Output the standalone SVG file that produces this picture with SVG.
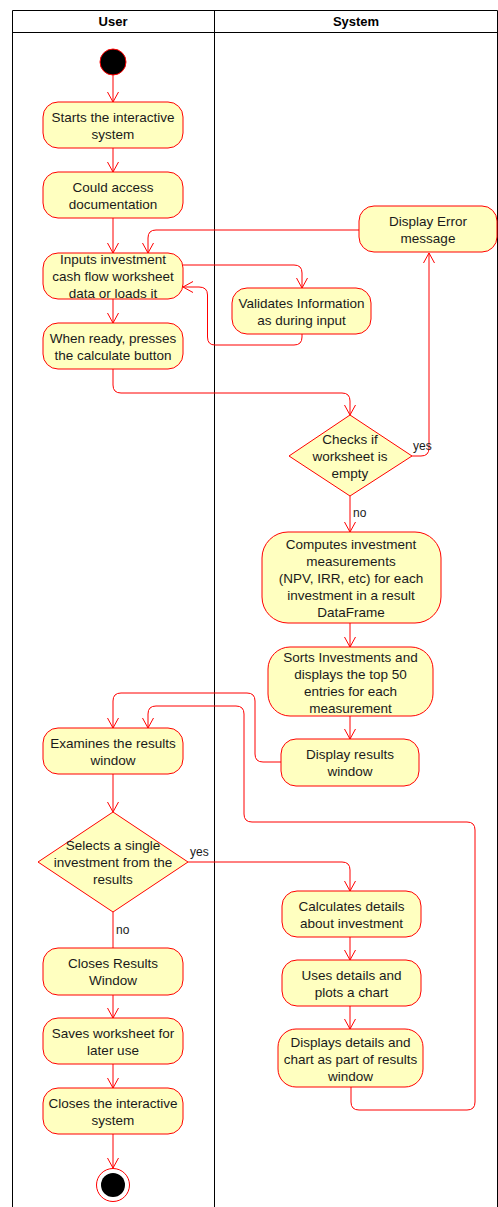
<svg xmlns="http://www.w3.org/2000/svg" width="498" height="1207" viewBox="0 0 498 1207">
<style>
.n{fill:#ffffc0;stroke:#ff0000;stroke-width:1}
.t{font-family:"Liberation Sans",Arial,sans-serif;font-size:13.5px;fill:#1a1a1a;text-anchor:middle}
.h{font-family:"Liberation Sans",Arial,sans-serif;font-size:13px;font-weight:bold;fill:#000;text-anchor:middle}
.l{font-family:"Liberation Sans",Arial,sans-serif;font-size:12px;fill:#1a1a1a}
.c{fill:none;stroke:#ff0000;stroke-width:1}
.a{marker-end:url(#arr)}
.f{fill:none;stroke:#000;stroke-width:1}
</style>
<defs>
<marker id="arr" markerUnits="userSpaceOnUse" markerWidth="14" markerHeight="14" viewBox="-1 -1 14 14" refX="10" refY="5.5" orient="auto">
<path d="M0,0 L10,5.5 L0,11" fill="none" stroke="#ff0000" stroke-width="1"/>
</marker>
</defs>
<rect width="498" height="1207" fill="#ffffff"/>
<g id="frame">
<path class="f" d="M12.5,1207 V10.5 H497.5 V1207 M12.5,32.5 H497.5 M214.5,10.5 V1207"/>
<text class="h" x="113" y="26">User</text>
<text class="h" x="356" y="26">System</text>
</g>
<g id="connectors">
<path class="c a" d="M113,75 V102"/>
<path class="c a" d="M113,148 V172"/>
<path class="c a" d="M113,218 V253"/>
<path class="c a" d="M113,299 V323"/>
<path class="c a" d="M183,265 H294 Q302,265 302,273 V288"/>
<path class="c a" d="M302,334 V337 Q302,345 294,345 H215 Q207.5,345 207.5,337 V295 Q207.5,287 199,287 H183"/>
<path class="c a" d="M359,230 H156 Q148,230 148,238 V253"/>
<path class="c a" d="M113,369 V385 Q113,393 121,393 H342 Q350,393 350,401 V415"/>
<path class="c a" d="M412,456 H421 Q429,456 429,448 V253"/>
<text class="l" x="413" y="450">yes</text>
<path class="c a" d="M350,496 V532"/>
<text class="l" x="353" y="517">no</text>
<path class="c a" d="M350,623 V647"/>
<path class="c a" d="M350,716 V739"/>
<path class="c a" d="M281,762 H263 Q255,762 255,754 V701 Q255,693 247,693 H121 Q113,693 113,701 V728"/>
<path class="c a" d="M113,774 V812"/>
<path class="c a" d="M188,862 H342 Q350,862 350,870 V891"/>
<text class="l" x="190" y="856">yes</text>
<path class="c a" d="M350,937 V960"/>
<path class="c a" d="M350,1006 V1029"/>
<path class="c a" d="M351,1087 V1102 Q351,1110 359,1110 H467 Q475,1110 475,1102 V830 Q475,822 467,822 H252 Q244,822 244,814 V714 Q244,706 236,706 H156 Q148,706 148,714 V728"/>
<path class="c" d="M113,912 V948"/>
<text class="l" x="116" y="934">no</text>
<path class="c a" d="M113,995 V1018"/>
<path class="c a" d="M113,1064 V1088"/>
<path class="c a" d="M113,1134 V1168"/>
</g>
<g id="start"><circle cx="113" cy="62" r="13" fill="#000" stroke="#ff0000"/></g>
<g id="n1"><rect class="n" x="43" y="102" width="140" height="46" rx="15"/>
<text class="t" x="113" y="121.5">Starts the interactive</text><text class="t" x="113" y="138.5">system</text></g>
<g id="n2"><rect class="n" x="43" y="172" width="140" height="46" rx="15"/>
<text class="t" x="113" y="191.5">Could access</text><text class="t" x="113" y="208.5">documentation</text></g>
<g id="n3"><rect class="n" x="43" y="253" width="140" height="46" rx="15"/>
<text class="t" x="113" y="263.5">Inputs investment</text><text class="t" x="113" y="280.5">cash flow worksheet</text><text class="t" x="113" y="297.5">data or loads it</text></g>
<g id="n4"><rect class="n" x="43" y="323" width="140" height="46" rx="15"/>
<text class="t" x="113" y="342.5">When ready, presses</text><text class="t" x="113" y="359.5">the calculate button</text></g>
<g id="err"><rect class="n" x="359" y="206" width="138" height="46" rx="15"/>
<text class="t" x="428" y="225.5">Display Error</text><text class="t" x="428" y="242.5">message</text></g>
<g id="val"><rect class="n" x="232" y="288" width="139" height="46" rx="15"/>
<text class="t" x="301.5" y="307.5">Validates Information</text><text class="t" x="301.5" y="324.5">as during input</text></g>
<g id="d1"><path class="n" d="M350,415 L412,456 L350,496 L289,456 Z"/>
<text class="t" x="350" y="443.5">Checks if</text><text class="t" x="350" y="460.5">worksheet is</text><text class="t" x="350" y="477.5">empty</text></g>
<g id="comp"><rect class="n" x="262" y="532" width="179" height="91" rx="26"/>
<text class="t" x="351" y="548.5">Computes investment</text><text class="t" x="351" y="565.5">measurements</text><text class="t" x="351" y="582.5">(NPV, IRR, etc) for each</text><text class="t" x="351" y="599.5">investment in a result</text><text class="t" x="351" y="616.5">DataFrame</text></g>
<g id="sort"><rect class="n" x="268" y="647" width="165" height="69" rx="22"/>
<text class="t" x="350.5" y="661.5">Sorts Investments and</text><text class="t" x="350.5" y="678.5">displays the top 50</text><text class="t" x="350.5" y="695.5">entries for each</text><text class="t" x="350.5" y="712.5">measurement</text></g>
<g id="disp"><rect class="n" x="281" y="739" width="138" height="47" rx="15"/>
<text class="t" x="350" y="758.5">Display results</text><text class="t" x="350" y="775.5">window</text></g>
<g id="exam"><rect class="n" x="43" y="728" width="140" height="46" rx="15"/>
<text class="t" x="113" y="747.5">Examines the results</text><text class="t" x="113" y="764.5">window</text></g>
<g id="d2"><path class="n" d="M113,812 L188,862 L113,912 L38,862 Z"/>
<text class="t" x="113" y="849.5">Selects a single</text><text class="t" x="113" y="866.5">investment from the</text><text class="t" x="113" y="883.5">results</text></g>
<g id="calc"><rect class="n" x="282" y="891" width="139" height="46" rx="15"/>
<text class="t" x="351.5" y="910.5">Calculates details</text><text class="t" x="351.5" y="927.5">about investment</text></g>
<g id="plot"><rect class="n" x="282" y="960" width="139" height="46" rx="15"/>
<text class="t" x="351.5" y="979.5">Uses details and</text><text class="t" x="351.5" y="996.5">plots a chart</text></g>
<g id="dd"><rect class="n" x="278" y="1029" width="145" height="58" rx="18"/>
<text class="t" x="350.5" y="1046.5">Displays details and</text><text class="t" x="350.5" y="1063.5">chart as part of results</text><text class="t" x="350.5" y="1080.5">window</text></g>
<g id="closer"><rect class="n" x="43" y="948" width="140" height="47" rx="15"/>
<text class="t" x="113" y="967.5">Closes Results</text><text class="t" x="113" y="984.5">Window</text></g>
<g id="save"><rect class="n" x="43" y="1018" width="140" height="46" rx="15"/>
<text class="t" x="113" y="1037.5">Saves worksheet for</text><text class="t" x="113" y="1054.5">later use</text></g>
<g id="close"><rect class="n" x="43" y="1088" width="140" height="46" rx="15"/>
<text class="t" x="113" y="1107.5">Closes the interactive</text><text class="t" x="113" y="1124.5">system</text></g>
<g id="end"><circle cx="113" cy="1185" r="16.5" fill="#fff" stroke="#ff0000"/><circle cx="113" cy="1185" r="12" fill="#000"/></g>
</svg>
